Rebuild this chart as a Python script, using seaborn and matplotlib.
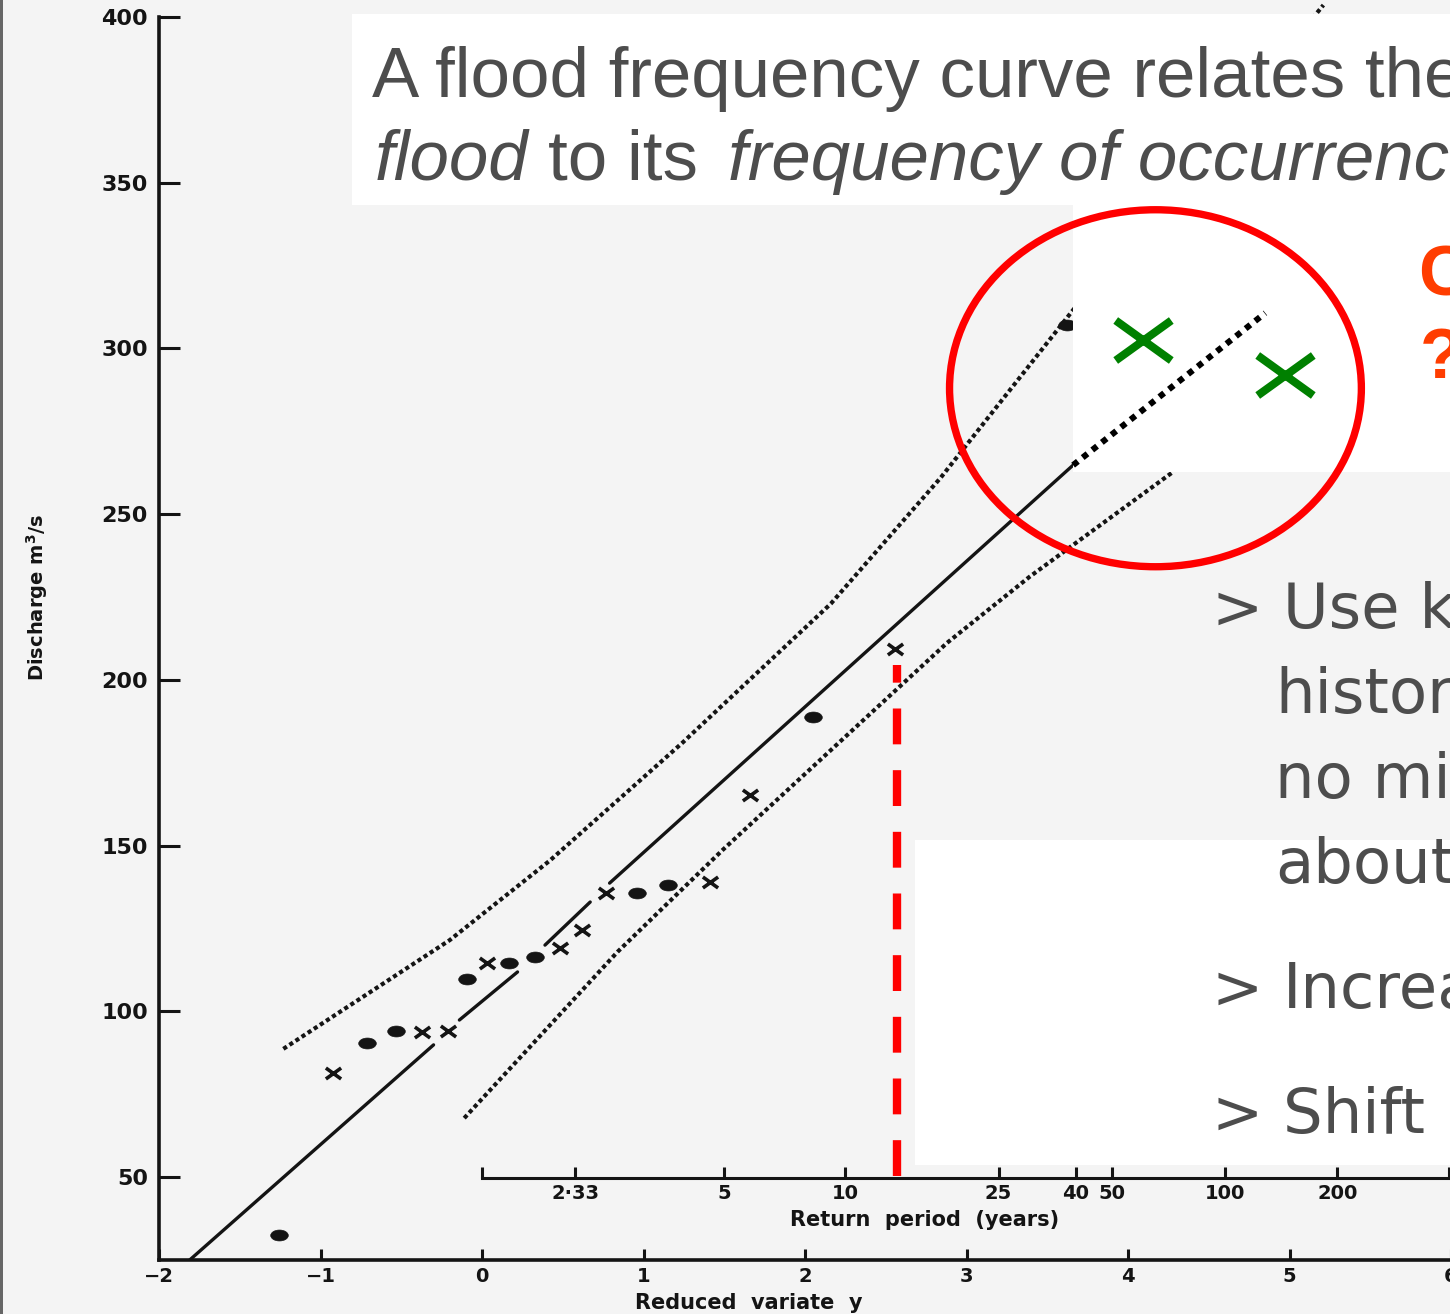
import numpy as np
import pandas as pd
import matplotlib
matplotlib.use("Agg")
import matplotlib.pyplot as plt
import seaborn as sns
from matplotlib.path import Path
from matplotlib.markers import MarkerStyle
from matplotlib.patches import Rectangle, Ellipse
from matplotlib.transforms import Affine2D
from matplotlib import font_manager

# ---------------- data ----------------
dots_rv = [-1.26, -0.71, -0.53, -0.09, 0.17, 0.33, 0.96, 1.15, 2.05, 3.62]
dots_q = [32.5, 90.5, 94.1, 109.8, 114.6, 116.4, 135.7, 138.1, 188.8, 307.1]
cross_rv = [-0.92, -0.37, -0.21, 0.03, 0.48, 0.62, 0.77, 1.41, 1.66, 2.56]
cross_q = [81.4, 93.8, 94.1, 114.6, 119.1, 124.5, 135.7, 139.0, 165.3, 209.3]
fit_seg = [0, 0, 1, 1, 2, 2, 3, 3]
fit_rv = [-1.81, -0.30, -0.14, 0.22, 0.39, 0.67, 0.79, 3.66]
fit_q = [25.0, 89.9, 97.4, 111.9, 120.0, 133.0, 138.7, 264.8]
ext_rv = [3.66, 4.85]
ext_q = [264.8, 310.7]
upper_rv = [-1.23, -0.20, 0.42, 1.24, 2.16, 2.84, 3.66, 5.21]
upper_q = [88.7, 121.5, 145.5, 181.0, 223.0, 261.0, 311.6, 403.6]
lower_rv = [-0.11, 0.84, 1.49, 2.88, 3.39, 4.28]
lower_q = [67.8, 118.0, 148.7, 211.2, 231.1, 262.8]
outlier_rv = [4.09, 4.97]
outlier_q = [302.5, 292.0]
design_rv = [2.57, 2.57]
design_q = [50.2, 204.5]
circle_center = (4.17, 288.0)
circle_size = (2.55, 107.7)

y_ticks = [50, 100, 150, 200, 250, 300, 350, 400]
y_tick_labels = ["50", "100", "150", "200", "250", "300", "350", "400"]
x_ticks = [-2, -1, 0, 1, 2, 3, 4, 5, 6]
x_tick_labels = ["\u22122", "\u22121", "0", "1", "2", "3", "4", "5", "6"]
T_ticks = [1.582, 2.33, 5, 10, 25, 40, 50, 100, 200, 400]
T_labels = ["", "2\u00b733", "5", "10", "25", "40", "50", "100", "200", ""]

# ---------------- style ----------------
sns.set_style("ticks")
plt.rcParams["font.family"] = ["DejaVu Sans"]
fams = {f.name for f in font_manager.fontManager.ttflist}
narrow = "Liberation Sans Narrow" if "Liberation Sans Narrow" in fams else "DejaVu Sans"
slide_font = "Liberation Sans" if "Liberation Sans" in fams else "DejaVu Sans"

W, H = 1450, 1314
BG = "#f4f4f4"
INK = "#141414"
TXT = "#4d4d4d"


def fx(x):
    return x / W


def fy(y):
    return 1 - y / H


fig = plt.figure(figsize=(W / 100, H / 100), dpi=100)
fig.patch.set_facecolor(BG)
ax = fig.add_axes([159 / W, (H - 1260) / H, 1292 / W, 1243 / H])
ax.set_facecolor("none")
ax.set_xlim(-2, 6)
ax.set_ylim(25, 400)

# ---------------- marks ----------------
fit_df = pd.DataFrame({"rv": fit_rv, "q": fit_q, "seg": fit_seg})
sns.lineplot(data=fit_df, x="rv", y="q", units="seg", estimator=None, sort=False,
             color=INK, lw=2.4, ax=ax, zorder=2)
sns.lineplot(x=upper_rv, y=upper_q, sort=False, estimator=None, color=INK, lw=3.0,
             linestyle=(0, (1.0, 0.75)), dash_capstyle="butt", ax=ax, zorder=2, clip_on=False)
sns.lineplot(x=lower_rv, y=lower_q, sort=False, estimator=None, color=INK, lw=3.0,
             linestyle=(0, (1.0, 0.75)), dash_capstyle="butt", ax=ax, zorder=2)

ellipse_marker = MarkerStyle(Path.unit_circle().transformed(Affine2D().scale(1.0, 0.62)))
xpath = Path([(-1, -0.72), (1, 0.72), (-1, 0.72), (1, -0.72)],
             [Path.MOVETO, Path.LINETO, Path.MOVETO, Path.LINETO])
x_marker = MarkerStyle(xpath)

sns.scatterplot(x=dots_rv, y=dots_q, marker=ellipse_marker, s=160, color=INK,
                edgecolor=INK, linewidth=0.5, ax=ax, zorder=3)
sns.scatterplot(x=cross_rv, y=cross_q, marker=x_marker, s=120, color=INK,
                edgecolor=INK, linewidth=2.6, ax=ax, zorder=3)

# white slide boxes (over the scan)
for (x0, y0, x1, y1) in [(352, 14, 1450, 205), (1073, 205, 1450, 472), (915, 840, 1450, 1165)]:
    ax.add_patch(Rectangle((fx(x0), fy(y1)), (x1 - x0) / W, (y1 - y0) / H,
                           transform=fig.transFigure, facecolor="white",
                           edgecolor="none", zorder=4, clip_on=False))

# annotations drawn over the boxes
sns.lineplot(x=ext_rv, y=ext_q, sort=False, estimator=None, color="black", lw=4.4,
             linestyle=(0, (1, 1)), dash_capstyle="butt", ax=ax, zorder=6)
sns.scatterplot(x=outlier_rv, y=outlier_q, marker=x_marker, s=1600, color="#008000",
                edgecolor="#008000", linewidth=5.8, ax=ax, zorder=6)
sns.lineplot(x=design_rv, y=design_q, sort=False, estimator=None, color="#ff0000", lw=6,
             linestyle=(0, (4.3, 3.1)), dash_capstyle="butt", ax=ax, zorder=6)
ax.add_patch(Ellipse(circle_center, circle_size[0], circle_size[1], fill=False,
                     edgecolor="#ff0000", lw=5.3, zorder=7, clip_on=False))

# ---------------- axes ----------------
for s in ["top", "right"]:
    ax.spines[s].set_visible(False)
for s in ["left", "bottom"]:
    ax.spines[s].set_linewidth(2.6)
    ax.spines[s].set_color(INK)

ax.set_yticks(y_ticks, labels=y_tick_labels, fontweight="bold", fontsize=16)
ax.set_xticks(x_ticks, labels=x_tick_labels, fontweight="bold", fontsize=14)
ax.tick_params(axis="y", direction="in", length=15, width=2.2, pad=8, colors=INK)
ax.tick_params(axis="x", direction="in", length=8, width=2.2, pad=5, colors=INK)

ax.set_ylabel("Discharge m$^\\mathregular{3}$/s", fontsize=14, fontweight="bold",
              family=narrow, color=INK)
ax.yaxis.set_label_coords((50 - 159) / 1292, (1260 - 598) / 1243)
ax.set_xlabel("Reduced  variate  y", fontsize=15, fontweight="bold", color=INK)
ax.xaxis.set_label_coords((749 - 159) / 1292, -(1293 - 1260) / 1243)


def rv_to_T(y):
    y = np.asarray(y, dtype=float)
    with np.errstate(all="ignore"):
        return 1.0 / (-np.expm1(-np.exp(-y)))


def T_to_rv(T):
    T = np.asarray(T, dtype=float)
    with np.errstate(all="ignore"):
        return -np.log(-np.log1p(-1.0 / T))


secax = ax.secondary_xaxis((1260 - 1178) / 1243, functions=(rv_to_T, T_to_rv))
secax.set_ticks(T_ticks, labels=T_labels, fontweight="bold", fontsize=14)
secax.tick_params(direction="in", length=8, width=2.2, pad=4, colors=INK)
secax.spines["bottom"].set_linewidth(2.2)
secax.spines["bottom"].set_color(INK)
secax.spines["bottom"].set_bounds(T_ticks[0], T_ticks[-1])
ax.text((925 - 159) / 1292, (1260 - 1220) / 1243, "Return  period  (years)",
        transform=ax.transAxes, ha="center", va="center", fontsize=15,
        fontweight="bold", color=INK)

# ---------------- slide text ----------------
fig.text(fx(372), fy(97), "A flood frequency curve relates the", fontsize=51,
         family=slide_font, color=TXT, va="baseline")
fig.text(fx(375), fy(180), "flood", fontsize=51, family=slide_font, style="italic",
         color=TXT, va="baseline")
fig.text(fx(548), fy(180), "to its", fontsize=51, family=slide_font, color=TXT,
         va="baseline")
fig.text(fx(728), fy(180), "frequency of occurrence", fontsize=51, family=slide_font,
         style="italic", color=TXT, va="baseline")

fig.text(fx(1418), fy(295), "C", fontsize=51, family=slide_font, fontweight="bold",
         color="#ff3d00", va="baseline")
fig.text(fx(1420), fy(378), "?", fontsize=51, family=slide_font, fontweight="bold",
         color="#ff3d00", va="baseline")

bullets = [(628, True, "Use k"), (713, False, "histor"), (798, False, "no mi"),
           (883, False, "about"), (1008, True, "Increa"), (1133, True, "Shift \u2018")]
for base, has_arrow, word in bullets:
    if has_arrow:
        fig.text(fx(1212), fy(base), ">", fontsize=44, color=TXT, va="baseline")
        fig.text(fx(1283), fy(base), word, fontsize=45, color=TXT, va="baseline")
    else:
        fig.text(fx(1275), fy(base), word, fontsize=45, color=TXT, va="baseline")

# thin frame line at the left edge of the slide
fig.add_artist(Rectangle((0, 0), 2.5 / W, 1, transform=fig.transFigure,
                         facecolor="#666666", edgecolor="none"))

fig.savefig("out.png", dpi=100, facecolor=fig.get_facecolor())
